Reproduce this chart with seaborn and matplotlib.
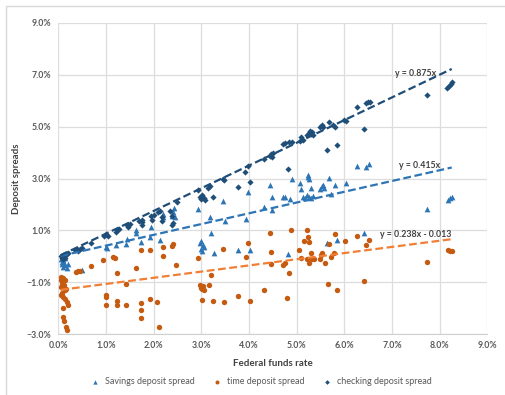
import numpy as np
import pandas as pd
import seaborn as sns
import matplotlib.pyplot as plt
from matplotlib.ticker import PercentFormatter, MultipleLocator
from matplotlib.patches import Rectangle

# values in percent
savings_x = [0.05, 0.07, 0.1, 0.08, 0.12, 0.15, 0.1, 0.18, 0.14, 0.2,
             0.49, 1.0, 1.03, 1.22, 1.43, 1.44, 1.62, 1.64, 1.73, 1.92, 1.95, 2.13,
             2.19, 2.2, 2.38, 2.4, 2.42, 2.45,
             2.94, 2.97, 2.99, 3.0, 3.02, 3.04, 3.06, 3.18, 3.2, 3.26, 3.46, 3.49, 3.76, 3.93, 3.97, 4.02,
             4.31, 4.45, 4.49, 4.49, 4.72, 4.75, 4.82, 4.86, 4.91, 5.07, 5.1, 5.13, 5.18, 5.22, 5.26, 5.3,
             5.35, 5.23, 5.24, 5.25, 5.29, 5.49, 5.52, 5.55, 5.57, 5.63, 5.68, 5.71, 5.8, 5.85, 6.03,
             6.27, 6.45, 6.52, 6.41, 7.74, 8.17, 8.22, 8.25]
savings_y = [-0.1, -0.2, -0.15, -0.3, -0.25, -0.35, -0.4, -0.45, -0.08, -0.3,
             -0.54, 0.35, 0.33, 0.43, 0.49, 0.67, 0.92, 1.02, 0.55, 0.74, 1.13, 0.62,
             1.5, 1.65, 1.55, 1.7, 1.85, 1.5,
             1.82, 0.5, 0.3, 0.6, 0.2, 0.45, 0.35, 1.51, 0.9, 0.13, 2.12, 1.38, 0.26, 1.45, 2.47, 0.26,
             1.9, 2.74, 2.3, 1.77, 2.28, 2.3, 0.1, 2.2, 3.0, 2.83, 2.6, 2.3, 2.25, 2.35, 2.3, 2.25,
             2.32, 3.05, 3.12, 2.98, 2.63, 2.6, 2.7, 2.75, 2.62, 0.51, 3.01, 2.41, 2.75, 0.62, 2.82,
             3.5, 3.46, 3.56, 0.9, 1.82, 2.18, 2.25, 2.3]

time_x = [0.06, 0.1, 0.06, 0.14, 0.08, 0.12, 0.06, 0.16, 0.14, 0.05, 0.1, 0.14, 0.18, 0.2, 0.1,
          0.1, 0.12, 0.16, 0.18, 0.08,
          0.38, 0.42, 0.45, 0.69, 0.93, 1.0, 1.01, 1.0, 1.14, 1.19, 1.24, 1.24, 1.24, 1.42, 1.42,
          1.63, 1.73, 1.73, 1.73, 1.73, 1.92, 1.92, 2.08, 2.11, 2.19, 2.2, 2.38, 2.4, 2.46,
          2.92, 2.97, 2.99, 3.01, 3.03, 3.05, 3.02, 3.17, 3.2, 3.25, 3.45, 3.48, 3.76, 3.93, 3.97, 4.02,
          4.31, 4.45, 4.47, 4.47, 4.72, 4.75, 4.8, 4.84, 4.89, 5.05, 5.08, 5.15, 5.22, 5.24, 5.25,
          5.22, 5.26, 5.3, 5.32, 5.36, 5.49, 5.51, 5.52, 5.59, 5.65, 5.67, 5.71, 5.78, 5.8, 5.85,
          6.01, 6.27, 6.41, 6.45, 6.52, 7.74, 8.17, 8.22, 8.25]
time_y = [-0.79, -0.85, -0.92, -0.92, -1.05, -1.1, -1.18, -1.24, -1.3, -1.5, -1.57, -1.63, -1.76, -1.88, -2.0,
          -2.33, -2.48, -2.72, -2.85, -1.4,
          -0.6, -0.56, -0.58, -0.37, -0.15, -1.5, -1.58, -1.88, -0.03, -0.05, -0.64, -1.7, -1.86, -1.05, -1.86,
          -0.44, 0.26, -1.8, -2.05, -2.36, 0.26, -1.63, -1.77, -2.72, 0.02, 0.36, 0.4, 0.47, -0.35,
          -0.07, -1.1, -1.2, -1.25, -1.15, -1.3, -1.68, -1.1, -0.7, -1.7, 0.27, -1.74, -1.53, -0.04, 0.53, -1.73,
          -1.28, 0.9, 0.17, -0.28, -0.35, -0.25, -1.6, -0.64, 1.0, 0.26, -0.05, 0.59, 1.0, 0.74, 0.55,
          -0.09, -0.26, 0.13, -0.09, -0.09, -0.09, 0.04, 0.12, -0.26, -1.08, 0.49, -0.03, 0.13, 0.87, -1.28,
          0.6, 0.8, -0.96, 0.42, 0.65, -0.2, 0.23, 0.2, 0.22]

checking_x = [0.05, 0.07, 0.1, 0.12, 0.15, 0.18, 0.1, 0.14, 0.2, 0.08,
              0.35, 0.4, 0.45, 0.5, 0.42,
              0.68, 0.95, 1.0, 1.05, 1.2, 1.24, 1.27, 1.45, 1.5, 1.46, 1.7, 1.75, 1.76, 1.75, 1.95, 2.0,
              1.96, 2.1, 2.13, 2.18, 2.18, 2.35, 2.38, 2.4, 2.38, 2.48,
              2.93, 2.97, 3.0, 3.02, 3.05, 3.07, 3.14, 3.18, 3.24, 3.45, 3.48, 3.76, 3.91, 3.97, 4.02,
              4.31, 4.44, 4.46, 4.48, 4.5, 4.72, 4.75, 4.84, 4.9, 4.82, 5.07, 5.1, 5.13, 5.22, 5.25,
              5.28, 5.3, 5.33, 5.35, 5.49, 5.52, 5.55, 5.63, 5.68, 5.76, 5.8, 5.84, 6.0, 6.03, 6.26,
              6.41, 6.45, 6.5, 6.54, 7.74, 8.15, 8.2, 8.23, 8.25]
checking_y = [0.0, -0.05, 0.05, 0.0, 0.08, 0.1, -0.1, -0.05, 0.12, 0.03,
              0.25, 0.3, 0.3, 0.32, 0.22,
              0.52, 0.8, 0.85, 0.8, 0.95, 1.02, 1.06, 1.2, 1.25, 1.14, 1.35, 1.42, 1.32, 1.22, 1.55, 1.6,
              1.42, 1.72, 1.76, 1.5, 1.35, 1.75, 1.55, 1.3, 1.2, 2.1,
              2.54, 2.3, 2.2, 2.35, 2.25, 2.18, 2.62, 2.7, 2.3, 3.0, 2.96, 2.67, 3.24, 3.5, 2.88,
              3.76, 3.85, 3.95, 3.82, 4.0, 4.32, 4.35, 4.4, 4.42, 3.38, 4.45, 4.58, 4.5, 4.68, 4.75,
              4.82, 4.7, 4.78, 4.68, 4.98, 5.05, 5.0, 4.08, 5.17, 5.05, 5.0, 4.3, 5.26, 5.22, 5.77,
              4.9, 5.92, 5.96, 5.94, 6.22, 6.5, 6.58, 6.65, 6.73]

series_names = ["Savings deposit spread", "time deposit spread", "checking deposit spread"]
marker_colors = ["#2E75B6", "#C55A11", "#1F4E79"]
line_colors = ["#2E75B6", "#F07F35", "#1F4E79"]
marker_shapes = ["^", "o", "D"]
marker_sizes = [17, 15, 10]

# trendline coefficients (slope, intercept in %) and labels
trend_slope = [0.415, 0.238, 0.875]
trend_icpt = [0.0, -1.3, 0.0]
trend_labels = ["y = 0.415x", "y = 0.238x - 0.013", "y = 0.875x"]
label_pos = [(7.58, 3.5), (7.5, 0.85), (7.5, 7.05)]

xs = [savings_x, time_x, checking_x]
ys = [savings_y, time_y, checking_y]

sns.set_style("whitegrid")
plt.rcParams["font.family"] = ["Lato", "DejaVu Sans"]

fig = plt.figure(figsize=(5.05, 3.95), dpi=100)
ax = fig.add_axes([0.1154, 0.1537, 0.8499, 0.7888])

fig.add_artist(Rectangle((0.012, -0.01), 1.0, 0.995, transform=fig.transFigure,
                         fill=False, edgecolor="#D9D9D9", linewidth=1.0))

for i in range(3):
    sns.scatterplot(x=xs[i], y=ys[i], color=marker_colors[i], marker=marker_shapes[i],
                    s=marker_sizes[i], linewidth=0, ax=ax, zorder=3, label=series_names[i])

for i in range(3):
    xx = np.array([min(xs[i]), max(xs[i])])
    ax.plot(xx, trend_slope[i] * xx + trend_icpt[i], color=line_colors[i],
            linestyle=(0, (3.5, 1.6)), linewidth=1.6, zorder=4)
    ax.text(label_pos[i][0], label_pos[i][1], trend_labels[i], fontsize=6.3,
            fontweight="bold", color="#404040", ha="center", va="center", zorder=5)

ax.set_xlim(0, 9)
ax.set_ylim(-3, 9)
ax.xaxis.set_major_locator(MultipleLocator(1))
ax.set_yticks([-3, -1, 1, 3, 5, 7, 9])
ax.xaxis.set_major_formatter(PercentFormatter(decimals=1))
ax.yaxis.set_major_formatter(PercentFormatter(decimals=1))
ax.grid(True, color="#DDDDDD", linewidth=0.9)
for sp in ["top", "right", "left"]:
    ax.spines[sp].set_visible(False)
ax.spines["bottom"].set_color("#D0D0D0")
ax.tick_params(length=0, labelsize=6.3, labelcolor="#595959", pad=5)
for lab in ax.get_xticklabels() + ax.get_yticklabels():
    lab.set_fontweight("bold")

ax.set_xlabel("Federal funds rate", fontsize=7, fontweight="bold", color="#404040", labelpad=6)
ax.set_ylabel("Deposit spreads", fontsize=7, fontweight="bold", color="#404040")
ax.yaxis.set_label_coords(-0.086, 0.5)

handles, labels = ax.get_legend_handles_labels()
ax.get_legend().remove()
fig.legend(handles, labels, loc="center", bbox_to_anchor=(0.513, 0.034), ncol=3,
           frameon=False, fontsize=6.5, labelcolor="#595959", handletextpad=0.1,
           columnspacing=1.5, markerscale=0.75)

fig.savefig("out.png", dpi=100)
